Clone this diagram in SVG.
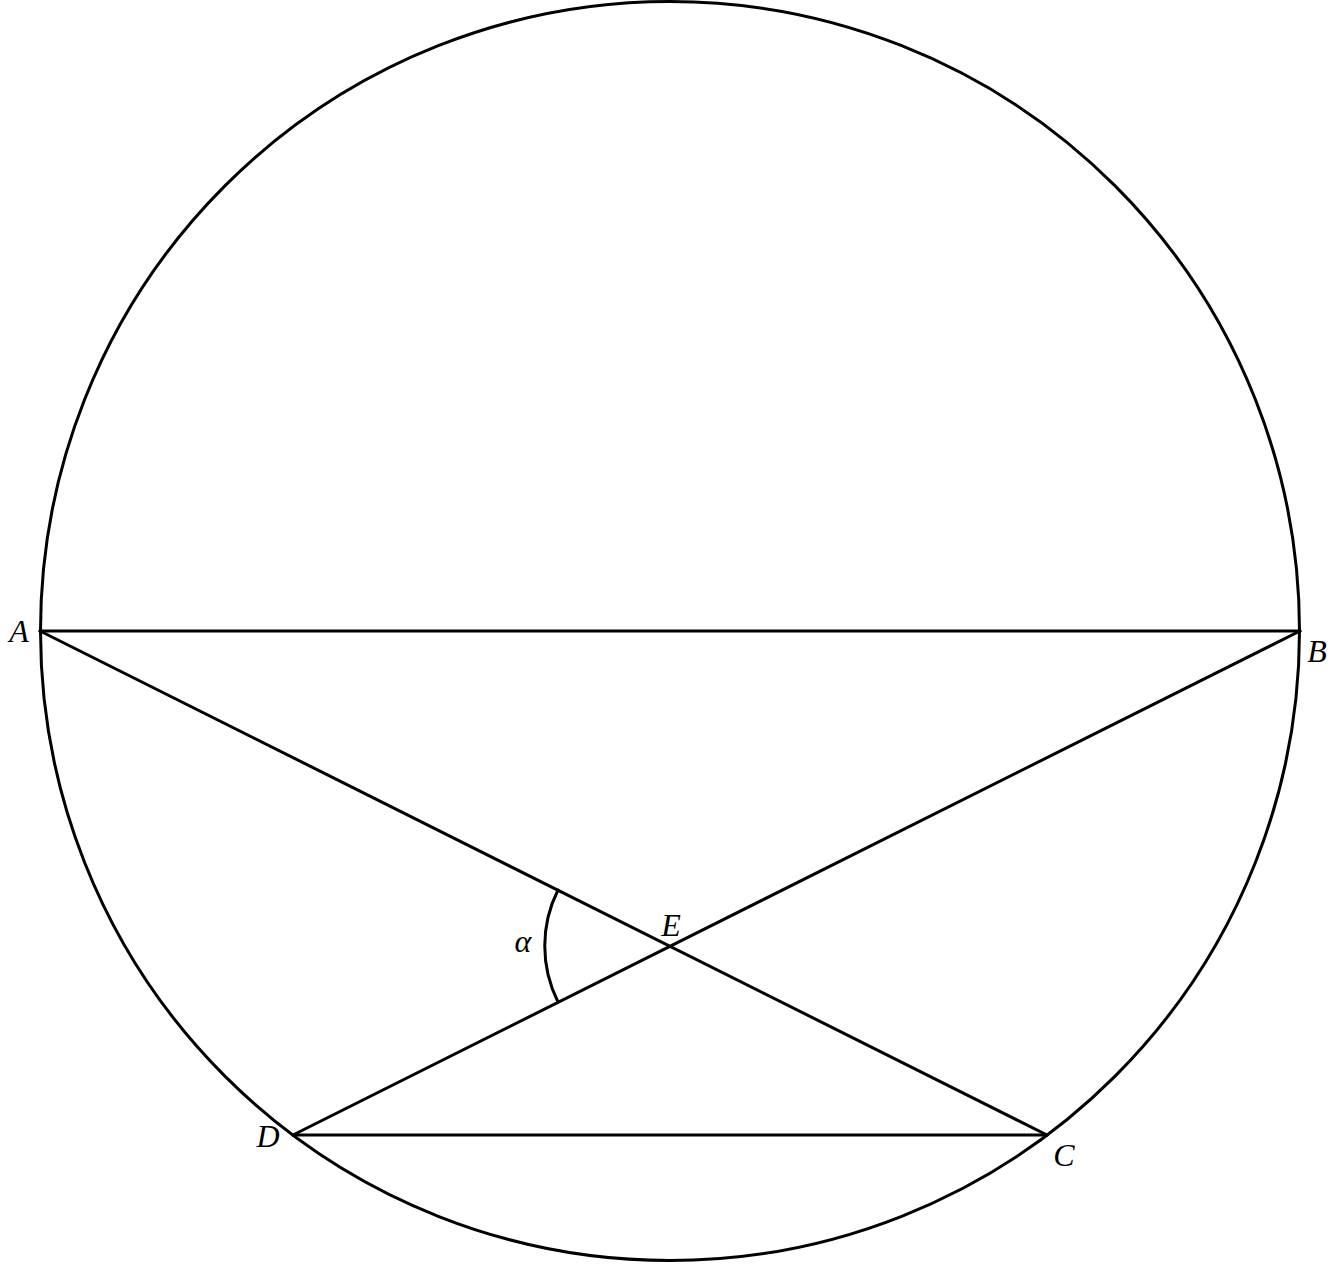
<svg xmlns="http://www.w3.org/2000/svg" width="1337" height="1264" viewBox="0 0 1337 1264">
<style>
.ln{fill:none;stroke:#000;stroke-width:3;stroke-linecap:round;stroke-linejoin:round}
.lb{font-family:"Liberation Serif",serif;font-style:italic;font-size:32px;fill:#000;text-anchor:middle}
</style>
<rect width="1337" height="1264" fill="#fff"/>
<g id="connectors">
<circle class="ln" cx="670" cy="631" r="629.5"/>
<line class="ln" x1="40" y1="631" x2="1300" y2="631"/>
<line class="ln" x1="40" y1="631" x2="1047" y2="1135"/>
<line class="ln" x1="1300" y1="631" x2="293" y2="1135"/>
<line class="ln" x1="293" y1="1135" x2="1047" y2="1135"/>
<path class="ln" d="M 558 890 A 125 125 0 0 0 558 1002"/>
</g>
<g id="A"><text class="lb" x="19" y="642">A</text></g>
<g id="B"><text class="lb" x="1317" y="662">B</text></g>
<g id="E"><text class="lb" x="671" y="936">E</text></g>
<g id="alpha"><text class="lb" x="523" y="952">α</text></g>
<g id="D"><text class="lb" x="268" y="1147">D</text></g>
<g id="C"><text class="lb" x="1064" y="1166">C</text></g>
</svg>
